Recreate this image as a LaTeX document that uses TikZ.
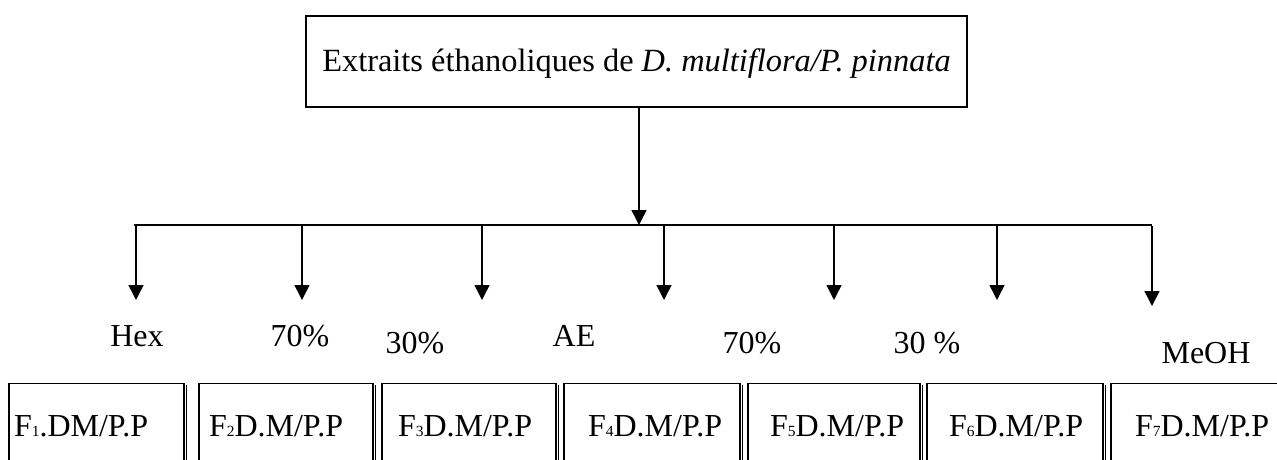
\documentclass[tikz,border=0pt]{standalone}
\usepackage{fontspec}
\setmainfont{Liberation Serif}
\usetikzlibrary{arrows.meta}
\newcommand{\sbd}[1]{{\fontsize{15.5}{15.5}\selectfont #1}}
\begin{document}
\begin{tikzpicture}[x=1pt,y=-1pt,
  every node/.style={inner sep=0pt,outer sep=0pt,font=\fontsize{32}{38}\selectfont},
  ln/.style={line width=1.5pt},
  arr/.style={line width=1.5pt,-{Triangle[length=15pt,width=15pt]}},
  boxtext/.style={anchor=base west},
  lab/.style={anchor=base},
  edgeline/.style={line width=1.5pt},
  edgeshadow/.style={line width=0.9pt}]
\useasboundingbox (0,0) rectangle (1277,459);
\clip (0,0) rectangle (1277,459);
% top box
\node[draw,line width=1.8pt,minimum width=661pt,minimum height=91pt,
      text height=22pt,text depth=3pt,font=\fontsize{32.4}{38}\selectfont] (top) at (636.5,61.5)
  {Extraits éthanoliques de \textit{D. multiflora/P. pinnata}};
% hub and bar
\coordinate (hub) at (639,225);
\coordinate (hl) at (134,225);
\coordinate (hr) at (1152,225);
\draw[arr] (top.south -| hub) -- (hub);
\draw[ln] (hl) -- (hr);
% branch arrows
\coordinate (t1) at (136,300);
\coordinate (t2) at (302,300);
\coordinate (t3) at (482,300);
\coordinate (t4) at (664,300);
\coordinate (t5) at (834,300);
\coordinate (t6) at (997,300);
\coordinate (t7) at (1152,306);
\foreach \i in {1,...,6} { \draw[arr] (t\i |- hub) -- (t\i); }
\draw[arr] ([yshift=-1pt]t7 |- hub) -- (t7);
% labels
\node[lab] (l1) at (137,346) {Hex};
\node[lab] (l2) at (300,346) {70\%};
\node[lab] (l3) at (415,353) {30\%};
\node[lab] (l4) at (574,346) {AE};
\node[lab] (l5) at (752,353) {70\%};
\node[lab] (l6) at (927,353) {30 \%};
\node[lab] (l7) at (1206,363) {MeOH};
% bottom boxes (open at the bottom edge of the picture)
\foreach \l/\r in {9/184,199/373,382/556,564/740,748/920,927/1103,1111/1290} {
  \draw[edgeline] (\l,470) -- (\l,383.5) -- (\r,383.5) -- (\r,470);
  \draw[edgeshadow] (\r+2.5,385) -- (\r+2.5,470);
}
\node[boxtext] (f1) at (14,436)   {F\sbd{1}.DM/P.P};
\node[boxtext] (f2) at (209,436)  {F\sbd{2}D.M/P.P};
\node[boxtext] (f3) at (398,436)  {F\sbd{3}D.M/P.P};
\node[boxtext] (f4) at (588,436)  {F\sbd{4}D.M/P.P};
\node[boxtext] (f5) at (770,436)  {F\sbd{5}D.M/P.P};
\node[boxtext] (f6) at (949,436)  {F\sbd{6}D.M/P.P};
\node[boxtext] (f7) at (1135,436) {F\sbd{7}D.M/P.P};
\end{tikzpicture}
\end{document}
